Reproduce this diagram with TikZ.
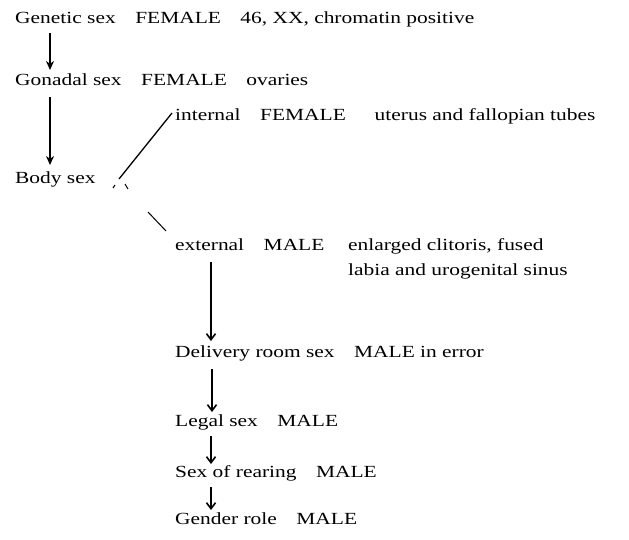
\documentclass[tikz,border=0pt]{standalone}
\usepackage{fontspec}
\setmainfont{Liberation Serif}[FakeStretch=1.26]
\usetikzlibrary{arrows.meta}
\newcommand{\gp}{\hspace{1.15em}}
\begin{document}
\begin{tikzpicture}[x=1pt,y=1pt,
  lbl/.style={anchor=base west,inner sep=0pt,font=\fontsize{17}{20}\selectfont},
  bigarr/.style={line width=1.8pt,-{Stealth[length=9pt,width=8pt]}},
  smallarr/.style={line width=1.2pt,-{Straight Barb[length=6pt,width=9pt,line width=1.6pt]}},
  fork/.style={line width=1.3pt}]
\useasboundingbox (0,0) rectangle (629,-539);
\node[lbl] (genetic) at (15,-23) {Genetic sex\gp FEMALE\gp 46, XX, chromatin positive};
\node[lbl] (gonadal) at (15,-85) {Gonadal sex\gp FEMALE\gp ovaries};
\node[lbl] (body) at (15,-183) {Body sex};
\node[lbl] (internal) at (175,-120) {internal\gp FEMALE\hspace{1.7em}uterus and fallopian tubes};
\node[lbl] (external) at (175,-250) {external\gp MALE\hspace{1.4em}\begin{tabular}[t]{@{}l@{}}enlarged clitoris, fused\\[5pt]labia and urogenital sinus\end{tabular}};
\node[lbl] (delivery) at (175,-357) {Delivery room sex\gp MALE in error};
\node[lbl] (legal) at (175,-426) {Legal sex\gp MALE};
\node[lbl] (rearing) at (175,-477) {Sex of rearing\gp MALE};
\node[lbl] (gender) at (175,-524) {Gender role\gp MALE};
% arrows
\draw[bigarr] (50,-33) -- (50,-70);
\draw[bigarr] (50,-97) -- (50,-165);
\draw[smallarr] (211,-262) -- (211,-341);
\draw[smallarr] (212,-369) -- (212,-412);
\draw[smallarr] (211,-436) -- (211,-464);
\draw[smallarr] (211,-487) -- (211,-510);
% fork
\coordinate (fk) at (119,-179);
\coordinate (intend) at (172,-113);
\draw[fork] (fk) -- (intend);
\draw[line width=1pt] (113,-188) -- (115,-185);
\draw[line width=1pt] (125,-184) -- (128,-189);
\draw[line width=1pt] (148,-212) -- (166,-231);
\end{tikzpicture}
\end{document}
